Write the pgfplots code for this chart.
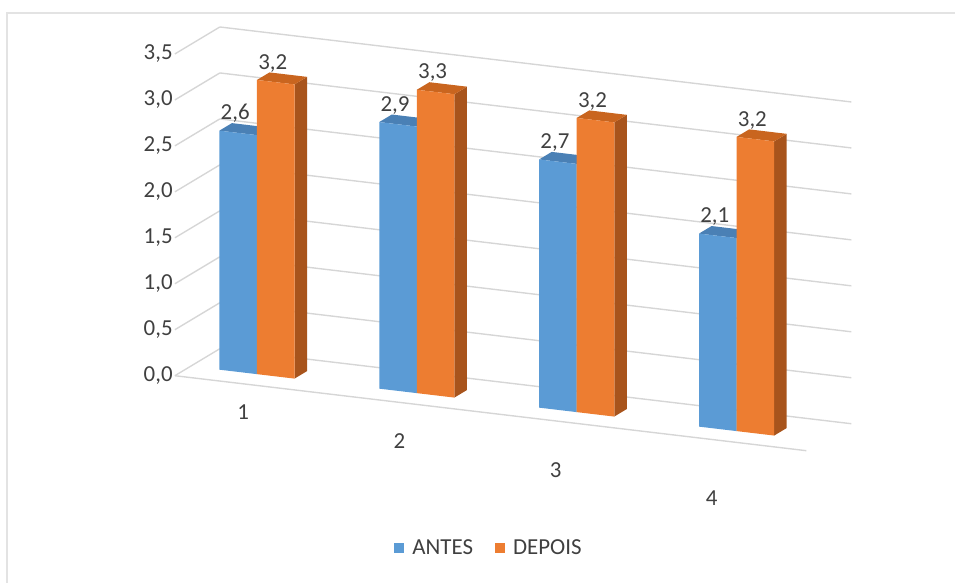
\documentclass[border=0pt]{standalone}
\usepackage{pgfplots}
\pgfplotsset{compat=1.18}
\usepackage{fontspec}
\setmainfont{Carlito}
\usetikzlibrary{calc}
\definecolor{antes}{HTML}{5B9BD5}
\definecolor{antesside}{HTML}{41719C}
\definecolor{antestop}{HTML}{4A80B5}
\definecolor{depois}{HTML}{ED7D31}
\definecolor{depoisside}{HTML}{A8541C}
\definecolor{depoistop}{HTML}{C9651F}
\definecolor{gridgray}{HTML}{D6D6D6}
\definecolor{framegray}{HTML}{E3E3E3}
\definecolor{txt}{HTML}{404040}
% x0 x1 height front side top
\newcommand{\cuboid}[6]{%
  \addplot3[fill=#5, draw=none, forget plot] coordinates {(#2,0.35,0) (#2,0.63,0) (#2,0.63,#3) (#2,0.35,#3)} -- cycle;
  \addplot3[fill=#6, draw=none, forget plot] coordinates {(#1,0.35,#3) (#2,0.35,#3) (#2,0.63,#3) (#1,0.63,#3)} -- cycle;
  \addplot3[fill=#4, draw=none, forget plot] coordinates {(#1,0.35,0) (#2,0.35,0) (#2,0.35,#3) (#1,0.35,#3)} -- cycle;
}
\begin{document}
\begin{tikzpicture}
\begin{axis}[
  x={(160bp,-19bp)}, y={(45bp,27bp)}, z={(0bp,92bp)},
  xmin=0.585, xmax=4.535, ymin=0, ymax=1, zmin=0, zmax=3.5,
  clip=false,
  axis line style={draw=none},
  major tick length=0pt,
  xtick={1,2,3,4}, xticklabels={1,2,3,4},
  ytick=\empty,
  ztick={0,0.5,1,1.5,2,2.5,3,3.5},
  zmajorgrids,
  grid style={color=gridgray, line width=1.4bp},
  /pgf/number format/assume math mode=true,
  zticklabel={\pgfmathprintnumber[fixed, fixed zerofill, precision=1, use comma]{\tick}},
  ticklabel style={font=\fontsize{23}{23}\selectfont, text=txt},
  xticklabel style={anchor=center, xshift={2bp-3.7bp*\ticknum}, yshift={-29bp-9.7bp*\ticknum}},
  zticklabel style={anchor=east, inner sep=0pt, xshift=-2bp},
  legend style={draw=none, fill=none, at={(axis cs:2.55,0,-1.463)}, anchor=center,
    legend columns=2, font=\fontsize{23}{23}\selectfont, text=txt, inner sep=0pt,
    /tikz/every odd column/.append style={column sep=6bp},
    /tikz/every even column/.append style={column sep=20bp}},
  legend image code/.code={\fill[#1] (0bp,-5bp) rectangle (10bp,5bp);},
]
\addplot3[forget plot, gridgray, line width=1.4bp] coordinates {(0.585,0,0) (4.535,0,0)};
\cuboid{0.765}{1}{2.6}{antes}{antesside}{antestop}
\cuboid{1}{1.235}{3.2}{depois}{depoisside}{depoistop}
\cuboid{1.765}{2}{2.9}{antes}{antesside}{antestop}
\cuboid{2}{2.235}{3.3}{depois}{depoisside}{depoistop}
\cuboid{2.765}{3}{2.7}{antes}{antesside}{antestop}
\cuboid{3}{3.235}{3.2}{depois}{depoisside}{depoistop}
\cuboid{3.765}{4}{2.1}{antes}{antesside}{antestop}
\cuboid{4}{4.235}{3.2}{depois}{depoisside}{depoistop}
\addplot3[forget plot, draw=none, mark=none, point meta=z,
  nodes near coords={\pgfmathprintnumber[fixed, fixed zerofill, precision=1, use comma]{\pgfplotspointmeta}},
  nodes near coords style={anchor=south, inner sep=0pt, yshift=10bp, xshift=-3bp, font=\fontsize{23}{23}\selectfont, text=txt}]
  coordinates {(0.8825,0.35,2.6) (1.1175,0.35,3.2) (1.8825,0.35,2.9) (2.1175,0.35,3.3)
               (2.8825,0.35,2.7) (3.1175,0.35,3.2) (3.8825,0.35,2.1) (4.1175,0.35,3.2)};
\addlegendimage{fill=antes, draw=none}\addlegendentry{ANTES}
\addlegendimage{fill=depois, draw=none}\addlegendentry{DEPOIS}
\coordinate (O) at (axis cs:0.585,0,0);
\end{axis}
\pgfresetboundingbox
\path ($(O)+(-175bp,376bp)$) rectangle ($(O)+(781bp,-207bp)$);
\draw[framegray, line width=1.5bp] ($(O)+(-168bp,-207bp)$) -- ($(O)+(-168bp,363bp)$) -- ($(O)+(781bp,363bp)$);
\end{tikzpicture}
\end{document}
